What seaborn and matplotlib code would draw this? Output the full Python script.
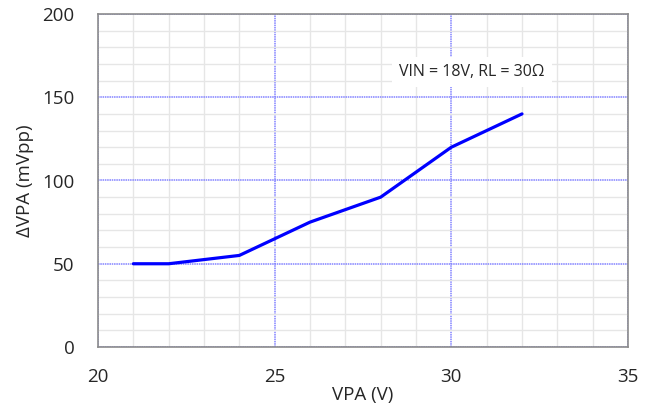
import matplotlib
matplotlib.use("Agg")
import matplotlib.pyplot as plt
import seaborn as sns
import pandas as pd
from matplotlib.ticker import MultipleLocator

# Ripple measurements
vpa_v = [21, 22, 24, 26, 28, 30, 32]
ripple_mvpp = [50, 50, 55, 75, 90, 120, 140]
x_ticks = [20, 25, 30, 35]
y_ticks = [0, 50, 100, 150, 200]
note = "VIN = 18V, RL = 30\u03a9"

sns.set_theme(style="white")
plt.rcParams["font.family"] = ["Open Sans", "DejaVu Sans"]

df = pd.DataFrame({"VPA": vpa_v, "dVPA": ripple_mvpp})

fig = plt.figure(figsize=(6.53, 4.19), dpi=100)
ax = fig.add_axes([98 / 653, 1 - 347 / 419, 530 / 653, 333 / 419])

sns.lineplot(data=df, x="VPA", y="dVPA", ax=ax, color="#0000ff",
             linewidth=2.3, zorder=5)

ax.set_xlim(20, 35)
ax.set_ylim(0, 200)
ax.set_xticks(x_ticks)
ax.set_yticks(y_ticks)
ax.xaxis.set_minor_locator(MultipleLocator(1))
ax.yaxis.set_minor_locator(MultipleLocator(10))

ax.grid(which="minor", color="#e6e6e6", linewidth=1.0, linestyle="-", zorder=0)
ax.grid(which="major", color="#8282ff", linewidth=1.1, linestyle=(0, (1, 0.5)), zorder=1)
ax.set_axisbelow(True)

for s in ax.spines.values():
    s.set_color("#8c8c8c")
    s.set_linewidth(1.2)

ax.tick_params(axis="both", which="both", length=0, labelsize=13.5, colors="#262626")
ax.tick_params(axis="x", pad=15)
ax.tick_params(axis="y", pad=17)

ax.set_xlabel("VPA (V)", fontsize=13.5, color="#262626", labelpad=0)
ax.set_ylabel("\u0394VPA (mVpp)", fontsize=13.5, color="#262626", labelpad=6)

ax.text(30.58, 165, note, ha="center", va="center", fontsize=11.5, color="#262626",
        zorder=6,
        bbox=dict(boxstyle="square,pad=0.45", facecolor="white", edgecolor="none"))

fig.savefig("out.png", dpi=100)
